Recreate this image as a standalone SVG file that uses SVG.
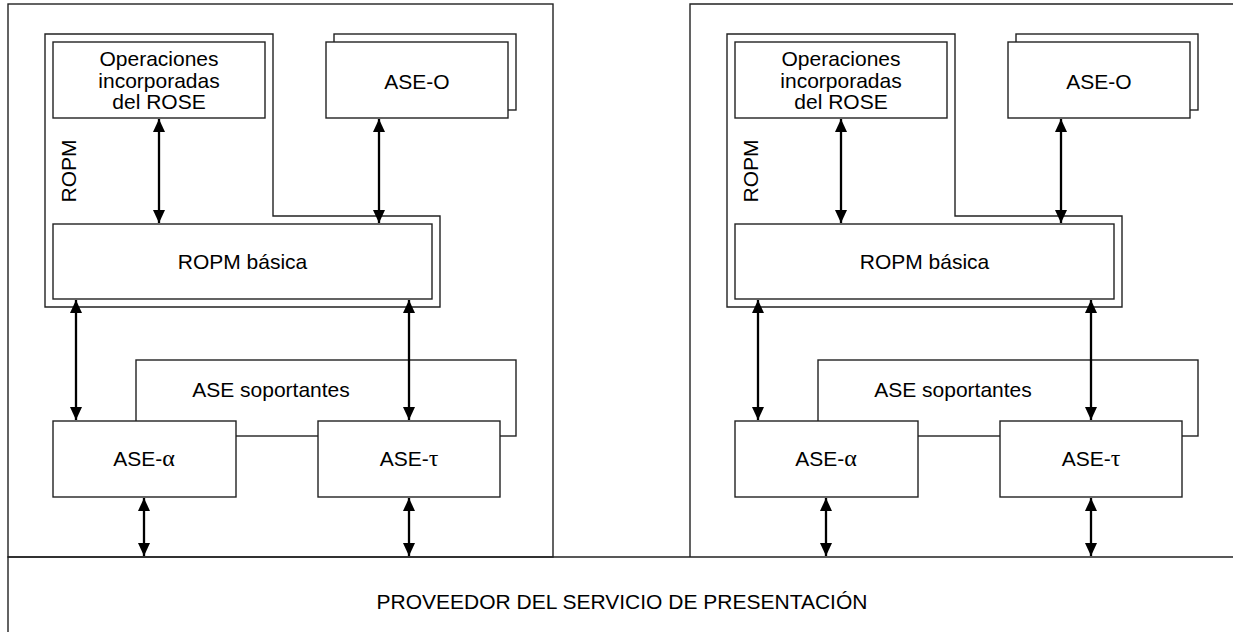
<svg xmlns="http://www.w3.org/2000/svg" width="1233" height="632" viewBox="0 0 1233 632">
<defs>
<style>
.box{fill:#fff;stroke:#222;stroke-width:1.4}
.ln{fill:none;stroke:#222;stroke-width:1.4}
.t{font-family:"Liberation Sans",Arial,sans-serif;font-size:21px;fill:#000;text-anchor:middle}
.g{font-family:"Liberation Serif","Times New Roman",serif;font-size:24px}
.arr{fill:none;stroke:#000;stroke-width:2.3;marker-start:url(#ah);marker-end:url(#ah)}
</style>
<marker id="ah" viewBox="0 0 13 12" refX="13" refY="6" markerWidth="13" markerHeight="12" markerUnits="userSpaceOnUse" orient="auto-start-reverse">
<path d="M0,0 L13,6 L0,12 z" fill="#000"/>
</marker>
</defs>
<rect width="1233" height="632" fill="#fff"/>

<g id="frames">
<rect id="left-panel" class="ln" x="8" y="4" width="545" height="553"/>
<path id="right-panel" class="ln" d="M1234,4 H690 V557"/>
</g>

<g id="proveedor">
<path class="ln" d="M1234,557 H8 V633"/>
<text class="t" x="622" y="609">PROVEEDOR DEL SERVICIO DE PRESENTACIÓN</text>
</g>

<g id="panel-left">
<g id="ropm-left">
<path class="ln" d="M45,34 H273 V216 H440 V307 H45 Z"/>
<text class="t" transform="translate(76,171) rotate(-90)">ROPM</text>
</g>
<g id="operaciones-left">
<rect class="box" x="53" y="42" width="212" height="76"/>
<text class="t" x="159" y="66">Operaciones</text>
<text class="t" x="159" y="87.5">incorporadas</text>
<text class="t" x="159" y="109">del ROSE</text>
</g>
<g id="aseo-left">
<rect class="box" x="334" y="34" width="182" height="76"/>
<rect class="box" x="326" y="42" width="182" height="76"/>
<text class="t" x="417" y="89">ASE-O</text>
</g>
<g id="ropmbasica-left">
<rect class="box" x="53" y="224" width="379" height="75"/>
<text class="t" x="242.5" y="269">ROPM básica</text>
</g>
<g id="soportantes-left">
<rect class="box" x="136" y="360" width="380" height="76"/>
<text class="t" x="271" y="397">ASE soportantes</text>
</g>
<g id="asealpha-left">
<rect class="box" x="53" y="421" width="183" height="76"/>
<text class="t" x="144" y="466">ASE-<tspan class="g">α</tspan></text>
</g>
<g id="asetau-left">
<rect class="box" x="318" y="421" width="182" height="76"/>
<text class="t" x="409" y="466">ASE-<tspan class="g">τ</tspan></text>
</g>
</g>

<g id="panel-right" transform="translate(682,0)">
<g id="ropm-right">
<path class="ln" d="M45,34 H273 V216 H440 V307 H45 Z"/>
<text class="t" transform="translate(76,171) rotate(-90)">ROPM</text>
</g>
<g id="operaciones-right">
<rect class="box" x="53" y="42" width="212" height="76"/>
<text class="t" x="159" y="66">Operaciones</text>
<text class="t" x="159" y="87.5">incorporadas</text>
<text class="t" x="159" y="109">del ROSE</text>
</g>
<g id="aseo-right">
<rect class="box" x="334" y="34" width="182" height="76"/>
<rect class="box" x="326" y="42" width="182" height="76"/>
<text class="t" x="417" y="89">ASE-O</text>
</g>
<g id="ropmbasica-right">
<rect class="box" x="53" y="224" width="379" height="75"/>
<text class="t" x="242.5" y="269">ROPM básica</text>
</g>
<g id="soportantes-right">
<rect class="box" x="136" y="360" width="380" height="76"/>
<text class="t" x="271" y="397">ASE soportantes</text>
</g>
<g id="asealpha-right">
<rect class="box" x="53" y="421" width="183" height="76"/>
<text class="t" x="144" y="466">ASE-<tspan class="g">α</tspan></text>
</g>
<g id="asetau-right">
<rect class="box" x="318" y="421" width="182" height="76"/>
<text class="t" x="409" y="466">ASE-<tspan class="g">τ</tspan></text>
</g>
</g>

<g id="connectors">
<line class="arr" x1="159" y1="119" x2="159" y2="223"/>
<line class="arr" x1="379" y1="119" x2="379" y2="223"/>
<line class="arr" x1="76" y1="300" x2="76" y2="420"/>
<line class="arr" x1="409" y1="300" x2="409" y2="420"/>
<line class="arr" x1="144" y1="498" x2="144" y2="556"/>
<line class="arr" x1="409" y1="498" x2="409" y2="556"/>
<line class="arr" x1="841" y1="119" x2="841" y2="223"/>
<line class="arr" x1="1061" y1="119" x2="1061" y2="223"/>
<line class="arr" x1="758" y1="300" x2="758" y2="420"/>
<line class="arr" x1="1091" y1="300" x2="1091" y2="420"/>
<line class="arr" x1="826" y1="498" x2="826" y2="556"/>
<line class="arr" x1="1091" y1="498" x2="1091" y2="556"/>
</g>
</svg>
